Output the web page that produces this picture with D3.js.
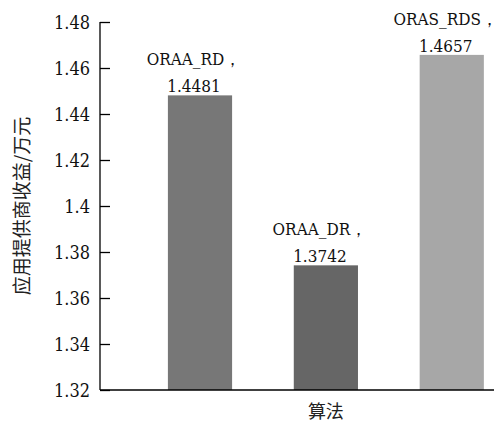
<!DOCTYPE html>
<html>
<head>
<meta charset="utf-8">
<script src="https://cdn.jsdelivr.net/npm/d3@7"></script>
<style>
  html, body { margin: 0; padding: 0; background: #fff; }
  svg { display: block; }
  .serif { font-family: "DejaVu Serif Condensed", "DejaVu Serif", serif; font-stretch: condensed; font-size: 17px; fill: #111; }
  .ticklabel { font-family: "DejaVu Serif Condensed", "DejaVu Serif", serif; font-stretch: condensed; font-size: 18px; fill: #111; }
  .cjk { font-family: "Noto Sans CJK SC", sans-serif; fill: #222; }
</style>
</head>
<body>
<svg id="chart" width="497" height="423"></svg>
<script>
// Revenue of the application provider (10k yuan) per algorithm
const algorithms = ["ORAA_RD", "ORAA_DR", "ORAS_RDS"];
const revenue = [1.4481, 1.3742, 1.4657];
const barColors = ["#777777", "#666666", "#a7a7a7"];
const yTicks = [1.32, 1.34, 1.36, 1.38, 1.4, 1.42, 1.44, 1.46, 1.48];
const yTitle = "应用提供商收益/万元";
const xTitle = "算法";

const svg = d3.select("#chart");
const plotLeft = 100, plotRight = 494, plotTop = 22, plotBottom = 390;

const x = d3.scaleBand()
  .domain(algorithms)
  .range([plotLeft, plotRight])
  .paddingInner(0.49)
  .paddingOuter(0.31)
  .align(0.87);

const y = d3.scaleLinear()
  .domain([1.32, 1.48])
  .range([plotBottom, plotTop]);

// Bars
svg.append("g")
  .selectAll("rect")
  .data(algorithms)
  .join("rect")
  .attr("x", d => x(d))
  .attr("width", x.bandwidth())
  .attr("y", (d, i) => y(revenue[i]))
  .attr("height", (d, i) => y(1.32) - y(revenue[i]))
  .attr("fill", (d, i) => barColors[i]);

// Y axis with inward ticks
const yAxis = svg.append("g")
  .attr("transform", `translate(${plotLeft},0)`)
  .call(d3.axisLeft(y).tickValues(yTicks).tickSize(-10).tickPadding(20)
    .tickFormat(d => String(+d.toFixed(2))));
yAxis.attr("font-family", null).attr("font-size", null);
yAxis.select(".domain").attr("d", `M0,${plotTop}V${plotBottom}`)
  .attr("stroke", "#000").attr("stroke-width", 1.3);
yAxis.selectAll(".tick line").attr("stroke", "#000").attr("stroke-width", 1.3);
yAxis.selectAll(".tick text")
  .attr("class", "ticklabel")
  .attr("fill", null)
  .attr("x", -10)
  .attr("dy", "0.34em");

// X axis baseline
const xAxis = svg.append("g")
  .attr("transform", `translate(0,${plotBottom})`)
  .call(d3.axisBottom(x).tickSize(0).tickFormat(""));
xAxis.select(".domain").attr("stroke", "#000").attr("stroke-width", 1.3)
  .attr("d", `M${plotLeft},0H${plotRight}`);

// Value labels above bars, nudged slightly left of the bar centre
const labelShift = -6;
const labels = svg.append("g")
  .selectAll("text")
  .data(algorithms)
  .join("text")
  .attr("class", "serif")
  .attr("text-anchor", "middle");
labels.append("tspan")
  .attr("x", d => x(d) + x.bandwidth() / 2 + labelShift)
  .attr("y", (d, i) => y(revenue[i]) - 30)
  .text(d => d + "，");
labels.append("tspan")
  .attr("x", d => x(d) + x.bandwidth() / 2 + labelShift)
  .attr("y", (d, i) => y(revenue[i]) - 3)
  .text((d, i) => revenue[i].toFixed(4));

// Axis titles
svg.append("text")
  .attr("class", "cjk")
  .style("font-size", "19px")
  .attr("transform", `translate(29,${(plotTop + plotBottom) / 2}) rotate(-90)`)
  .attr("text-anchor", "middle")
  .text(yTitle);

svg.append("text")
  .attr("class", "cjk")
  .style("font-size", "18px")
  .attr("x", x(algorithms[1]) + x.bandwidth() / 2)
  .attr("y", 418)
  .attr("text-anchor", "middle")
  .text(xTitle);
</script>
</body>
</html>
